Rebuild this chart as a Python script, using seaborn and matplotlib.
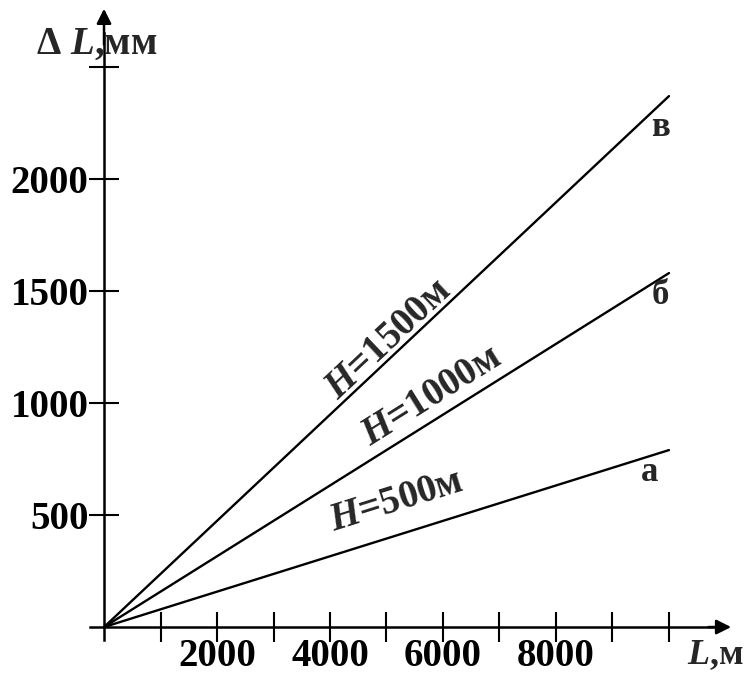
import numpy as np
import pandas as pd
import seaborn as sns
import matplotlib
matplotlib.use("Agg")
import matplotlib.pyplot as plt

# данные: удлинение dL (мм) при длине L (м) для трёх глубин H
L_vals = [0, 10000]
H_vals = [500, 1000, 1500]
dL_end = [790, 1580, 2370]          # значения на правом конце линий
curve_names = ["а", "б", "в"]
x_ticks = [1000, 2000, 3000, 4000, 5000, 6000, 7000, 8000, 9000, 10000]
x_tick_labels = ["", "2000", "", "4000", "", "6000", "", "8000", "", ""]
y_ticks = [500, 1000, 1500, 2000, 2500]
y_tick_labels = ["500", "1000", "1500", "2000", ""]

rows = []
for H, end in zip(H_vals, dL_end):
    for L in L_vals:
        rows.append({"H": H, "L": L, "dL": end * L / L_vals[-1]})
df = pd.DataFrame(rows)

sns.set_style("white")
plt.rcParams["font.family"] = ["Liberation Serif", "DejaVu Serif"]
plt.rcParams["font.weight"] = "bold"
plt.rcParams["mathtext.fontset"] = "custom"
plt.rcParams["mathtext.rm"] = "Liberation Serif:bold"
plt.rcParams["mathtext.it"] = "Liberation Serif:italic:bold"

fig = plt.figure(figsize=(7.47, 6.75), dpi=100)
ax = fig.add_axes([0, 0, 1, 1])

sns.lineplot(data=df, x="L", y="dL", hue="H", palette=["black"] * 3,
             legend=False, linewidth=1.7, ax=ax)

ax.set_xlim(-1841, 11381)
ax.set_ylim(-214, 2799)

# оси со стрелками
for s in ["top", "right"]:
    ax.spines[s].set_visible(False)
ax.spines["left"].set_position(("data", 0))
ax.spines["bottom"].set_position(("data", 0))
ax.spines["bottom"].set_bounds(-250, 10900)
ax.spines["left"].set_bounds(-60, 2650)
for s in ["left", "bottom"]:
    ax.spines[s].set_linewidth(1.8)
    ax.spines[s].set_color("black")
ax.annotate("", xy=(11100, 0), xytext=(10700, 0),
            arrowprops=dict(arrowstyle="-|>", color="black", lw=1.8,
                            mutation_scale=22, shrinkA=0, shrinkB=0))
ax.annotate("", xy=(0, 2760), xytext=(0, 2600),
            arrowprops=dict(arrowstyle="-|>", color="black", lw=1.8,
                            mutation_scale=22, shrinkA=0, shrinkB=0))

ax.set_xticks(x_ticks)
ax.set_xticklabels(x_tick_labels)
ax.set_yticks(y_ticks)
ax.set_yticklabels(y_tick_labels)
ax.tick_params(axis="both", bottom=True, left=True, direction="inout",
               length=22, width=1.5, labelsize=28, colors="black")
ax.tick_params(axis="x", pad=-3)
ax.tick_params(axis="y", pad=0)
ax.set_xlabel("")
ax.set_ylabel("")

# подписи осей
ax.text(10320, -128, r"$\mathit{L}$,м", fontsize=26, ha="left", va="center")
ax.text(-1200, 2600, r"$\mathit{\Delta\ L}$,мм", fontsize=28, ha="left", va="center")

# подписи линий
label_pos = [(5170, 560), (5800, 1030), (5030, 1285)]
for (lx, ly), H, end in zip(label_pos, H_vals, dL_end):
    ang = ax.transData.transform_angles(np.array([np.degrees(np.arctan2(end, L_vals[-1]))]),
                                        np.array([[lx, ly]]))[0]
    ax.text(lx, ly, r"$\mathit{H}$=" + f"{H}м", fontsize=28, rotation=ang,
            rotation_mode="anchor", ha="center", va="center")

name_pos = [(9650, 690), (9850, 1480), (9850, 2230)]
for (nx, ny), name in zip(name_pos, curve_names):
    ax.text(nx, ny, name, fontsize=25, ha="center", va="center")

fig.savefig("out.png", dpi=100)
